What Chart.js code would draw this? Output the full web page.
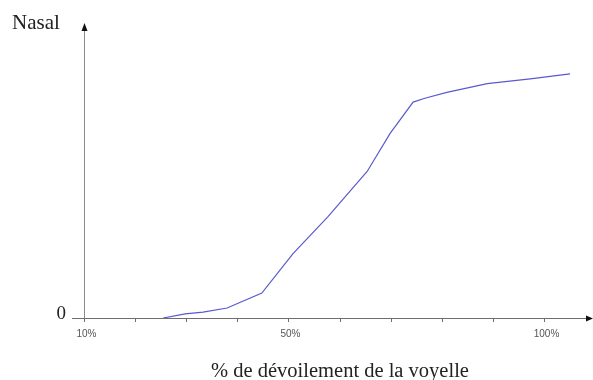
<!DOCTYPE html>
<html>
<head>
<meta charset="utf-8">
<script src="https://cdn.jsdelivr.net/npm/chart.js@4"></script>
<style>
    html, body { margin: 0; padding: 0; background: #fff; }
    #wrap { width: 593px; height: 380px; }
</style>
</head>
<body>
<div id="wrap"><canvas id="chart"></canvas></div>
<script>
// % de dévoilement (x) et valeur nasale (y)
const unveilPct = [25.5, 29.8, 33.3, 38.0, 44.8, 50.9, 57.7, 65.4, 69.9, 74.4, 76.7, 81.0, 88.9, 97.3, 105.1];
const nasalValues = [0, 1.4, 2.0, 3.4, 8.5, 22, 34.5, 50, 63, 73.7, 75, 77, 80, 81.6, 83.3];
const tickValues = [10, 20, 30, 40, 50, 60, 70, 80, 90, 100];
const tickLabels = { 10: '10%', 50: '50%', 100: '100%' };

const xTitle = '% de dévoilement de la voyelle';
const yTitle = 'Nasal';

// Dessin des axes façon schéma (flèches, graduations)
const axesPlugin = {
    id: 'axesPlugin',
    afterDraw(chart) {
        const ctx = chart.ctx;
        const x = chart.scales.x;
        const y = chart.scales.y;
        const x0 = x.getPixelForValue(10);
        const y0 = y.getPixelForValue(0);
        const yTop = y.getPixelForValue(100);
        const xEnd = chart.chartArea.right;

        ctx.save();
        // axe Y
        ctx.strokeStyle = '#8a8a8a';
        ctx.lineWidth = 1;
        ctx.beginPath();
        ctx.moveTo(x0 + 0.5, y0);
        ctx.lineTo(x0 + 0.5, yTop + 4);
        ctx.stroke();
        ctx.fillStyle = '#111';
        ctx.beginPath();
        ctx.moveTo(x0 + 0.5, yTop - 2);
        ctx.lineTo(x0 - 2.5, yTop + 6);
        ctx.lineTo(x0 + 3.5, yTop + 6);
        ctx.closePath();
        ctx.fill();

        // axe X
        ctx.strokeStyle = '#6e6e6e';
        ctx.beginPath();
        ctx.moveTo(x0 - 12, y0 + 0.5);
        ctx.lineTo(xEnd - 4, y0 + 0.5);
        ctx.stroke();
        ctx.fillStyle = '#111';
        ctx.beginPath();
        ctx.moveTo(xEnd + 1, y0 + 0.5);
        ctx.lineTo(xEnd - 6, y0 - 2.5);
        ctx.lineTo(xEnd - 6, y0 + 3.5);
        ctx.closePath();
        ctx.fill();

        // graduations
        ctx.strokeStyle = '#6e6e6e';
        ctx.font = '10px "Liberation Sans Narrow", "Liberation Sans", Arial, sans-serif';
        ctx.fillStyle = '#555';
        ctx.textAlign = 'center';
        ctx.textBaseline = 'alphabetic';
        tickValues.forEach(v => {
            const px = Math.round(x.getPixelForValue(v)) + 0.5;
            ctx.beginPath();
            ctx.moveTo(px, y0);
            ctx.lineTo(px, y0 + 4);
            ctx.stroke();
            if (tickLabels[v]) {
                ctx.fillText(tickLabels[v], px + 2, y0 + 19);
            }
        });

        // textes
        ctx.fillStyle = '#222';
        ctx.font = '21px "Liberation Serif", "Times New Roman", serif';
        ctx.textAlign = 'left';
        ctx.fillText(yTitle, 12, 29);
        ctx.font = '19px "Liberation Serif", "Times New Roman", serif';
        ctx.textAlign = 'right';
        ctx.fillText('0', x0 - 18, y0 + 1);
        ctx.font = '20.5px "Liberation Serif", "Times New Roman", serif';
        ctx.textAlign = 'center';
        ctx.fillText(xTitle, 340, 377);
        ctx.restore();
    }
};

const chart = new Chart(document.getElementById('chart'), {
    type: 'line',
    data: {
        datasets: [
            {
                data: unveilPct.map((v, i) => ({ x: v, y: nasalValues[i] })),
                borderColor: '#5a5acd',
                borderWidth: 1.2,
                pointRadius: 0,
                tension: 0,
                fill: false
            }
        ]
    },
    options: {
        responsive: true,
        maintainAspectRatio: false,
        animation: false,
        layout: {
            padding: { left: 84, right: 1, top: 25, bottom: 62 }
        },
        scales: {
            x: { type: 'linear', display: false, min: 10, max: 109.4 },
            y: { type: 'linear', display: false, min: 0, max: 100 }
        },
        plugins: {
            legend: { display: false },
            tooltip: { enabled: false }
        }
    },
    plugins: [axesPlugin]
});
</script>
</body>
</html>
